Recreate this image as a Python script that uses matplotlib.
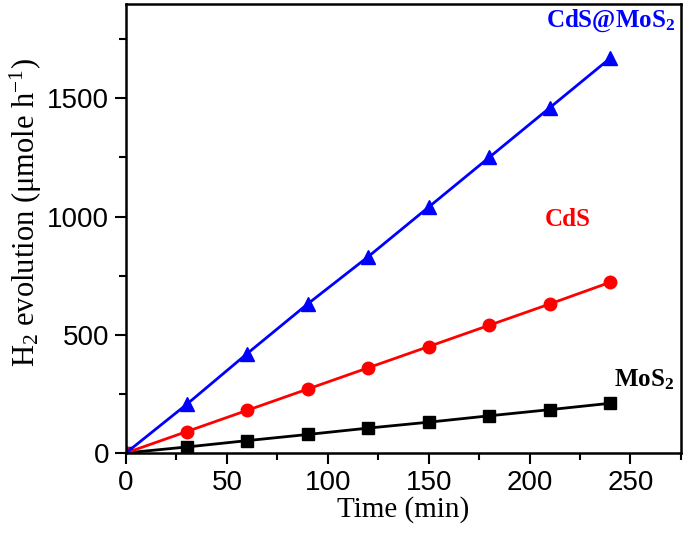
import matplotlib
matplotlib.use('Agg')
import matplotlib.pyplot as plt
from matplotlib.ticker import MultipleLocator

serif = 'Liberation Serif'
plt.rcParams['mathtext.fontset'] = 'custom'
plt.rcParams['mathtext.rm'] = serif
plt.rcParams['mathtext.it'] = serif + ':italic'
plt.rcParams['mathtext.bf'] = serif + ':bold'

# 시간 (min)
time = [0, 30, 60, 90, 120, 150, 180, 210, 240]

# H2 발생량 (umole h-1)
cds_mos2 = [0, 205, 420, 630, 830, 1040, 1250, 1460, 1670]
cds = [0, 90, 180, 270, 360, 450, 540, 630, 722]
mos2 = [0, 25, 52, 78, 105, 130, 157, 183, 210]

fig = plt.figure(figsize=(6.85, 5.36), dpi=100)
ax = fig.add_axes([0.184, 0.155, 0.81, 0.838])

ax.plot(time, mos2, color='black', marker='s', markersize=8, lw=2)
ax.plot(time, cds, color='red', marker='o', markersize=9, lw=2)
ax.plot(time, cds_mos2, color='blue', marker='^', markersize=10, lw=2)

ax.set_xlim(0, 275)
ax.set_ylim(0, 1900)
ax.xaxis.set_major_locator(MultipleLocator(50))
ax.xaxis.set_minor_locator(MultipleLocator(25))
ax.yaxis.set_major_locator(MultipleLocator(500))
ax.yaxis.set_minor_locator(MultipleLocator(250))

ax.tick_params(which='major', direction='out', length=8, width=1.5,
               labelsize=20, top=False, right=False, pad=4)
ax.tick_params(which='minor', direction='out', length=5, width=1.5,
               top=False, right=False)
for lab in ax.get_xticklabels() + ax.get_yticklabels():
    lab.set_fontfamily('Liberation Sans')
for s in ax.spines.values():
    s.set_linewidth(1.8)

ax.set_xlabel('Time (min)', fontsize=21, fontfamily=serif, labelpad=0)
ax.set_ylabel(r'H$_\mathregular{2}$ evolution (μmole h$^\mathregular{-1}$)',
              fontsize=22, fontfamily=serif)
ax.yaxis.set_label_coords(-0.148, 0.535)

ax.text(240, 1826, r'CdS@MoS$_\mathbf{2}$', color='blue', fontsize=18,
        fontweight='bold', fontfamily=serif, ha='center', va='center')
ax.text(219, 987, 'CdS', color='red', fontsize=18,
        fontweight='bold', fontfamily=serif, ha='center', va='center')
ax.text(257, 309, r'MoS$_\mathbf{2}$', color='black', fontsize=18,
        fontweight='bold', fontfamily=serif, ha='center', va='center')

fig.savefig('out.png', dpi=100)
